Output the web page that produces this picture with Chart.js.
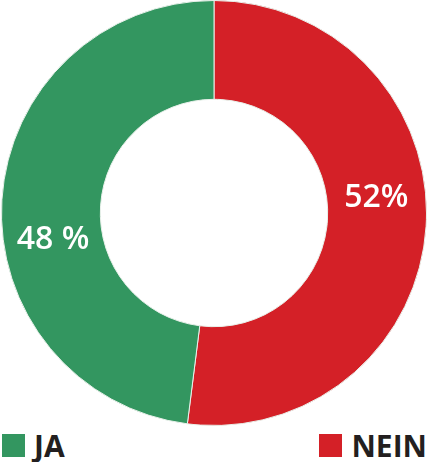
<!DOCTYPE html>
<html>
<head>
<meta charset="utf-8">
<script src="https://cdn.jsdelivr.net/npm/chart.js@4"></script>
<style>
  html, body { margin: 0; padding: 0; background: #fff; }
  body { width: 428px; height: 462px; overflow: hidden; font-family: "Open Sans", sans-serif; }
  .chart-box { position: relative; width: 428px; height: 426px; }
  .legend { display: flex; justify-content: space-between; height: 36px; padding: 3px 1px 0 2px; box-sizing: border-box; }
  .legend-item { display: flex; align-items: center; font-weight: 700; font-size: 30px; color: #231f20; }
  .legend-item span.box { width: 23px; height: 23px; margin-right: 9px; display: inline-block; }
</style>
</head>
<body>
<div class="chart-box"><canvas id="voteChart"></canvas></div>
<div class="legend" id="legend"></div>
<script>
  const labels = ['NEIN', 'JA'];
  const values = [52, 48];
  const valueLabels = ['52%', '48 %'];
  const legendOrder = ['JA', 'NEIN'];

  const colors = {
    nein: '#d42027',
    ja: '#339660'
  };
  const sliceColors = [colors.nein, colors.ja];

  // white labels inside each slice
  const sliceLabels = {
    id: 'sliceLabels',
    afterDatasetsDraw(chart, args, opts) {
      const ctx = chart.ctx;
      const meta = chart.getDatasetMeta(0);
      ctx.save();
      ctx.fillStyle = '#fff';
      ctx.font = '600 32px "Open Sans", sans-serif';
      ctx.textAlign = 'center';
      ctx.textBaseline = 'middle';
      meta.data.forEach(function (arc, i) {
        const p = arc.getProps(['x', 'y', 'startAngle', 'endAngle', 'innerRadius', 'outerRadius'], true);
        const a = (p.startAngle + p.endAngle) / 2 + opts.angleShift[i] * Math.PI / 180;
        const r = (p.innerRadius + p.outerRadius) / 2;
        ctx.fillText(valueLabels[i], p.x + Math.cos(a) * r, p.y + Math.sin(a) * r);
      });
      ctx.restore();
    }
  };

  new Chart(document.getElementById('voteChart'), {
    type: 'doughnut',
    data: {
      labels: labels,
      datasets: [{
        data: values,
        backgroundColor: sliceColors,
        borderColor: '#e8f0ea',
        borderWidth: 1
      }]
    },
    options: {
      responsive: true,
      maintainAspectRatio: false,
      animation: false,
      cutout: '53.5%',
      layout: { padding: 0 },
      plugins: {
        legend: { display: false },
        tooltip: { enabled: false },
        sliceLabels: { angleShift: [-9, -13] }
      }
    },
    plugins: [sliceLabels]
  });

  const legend = document.getElementById('legend');
  legendOrder.forEach(function (name) {
    const item = document.createElement('div');
    item.className = 'legend-item';
    const box = document.createElement('span');
    box.className = 'box';
    box.style.background = sliceColors[labels.indexOf(name)];
    item.appendChild(box);
    item.appendChild(document.createTextNode(name));
    legend.appendChild(item);
  });
</script>
</body>
</html>
